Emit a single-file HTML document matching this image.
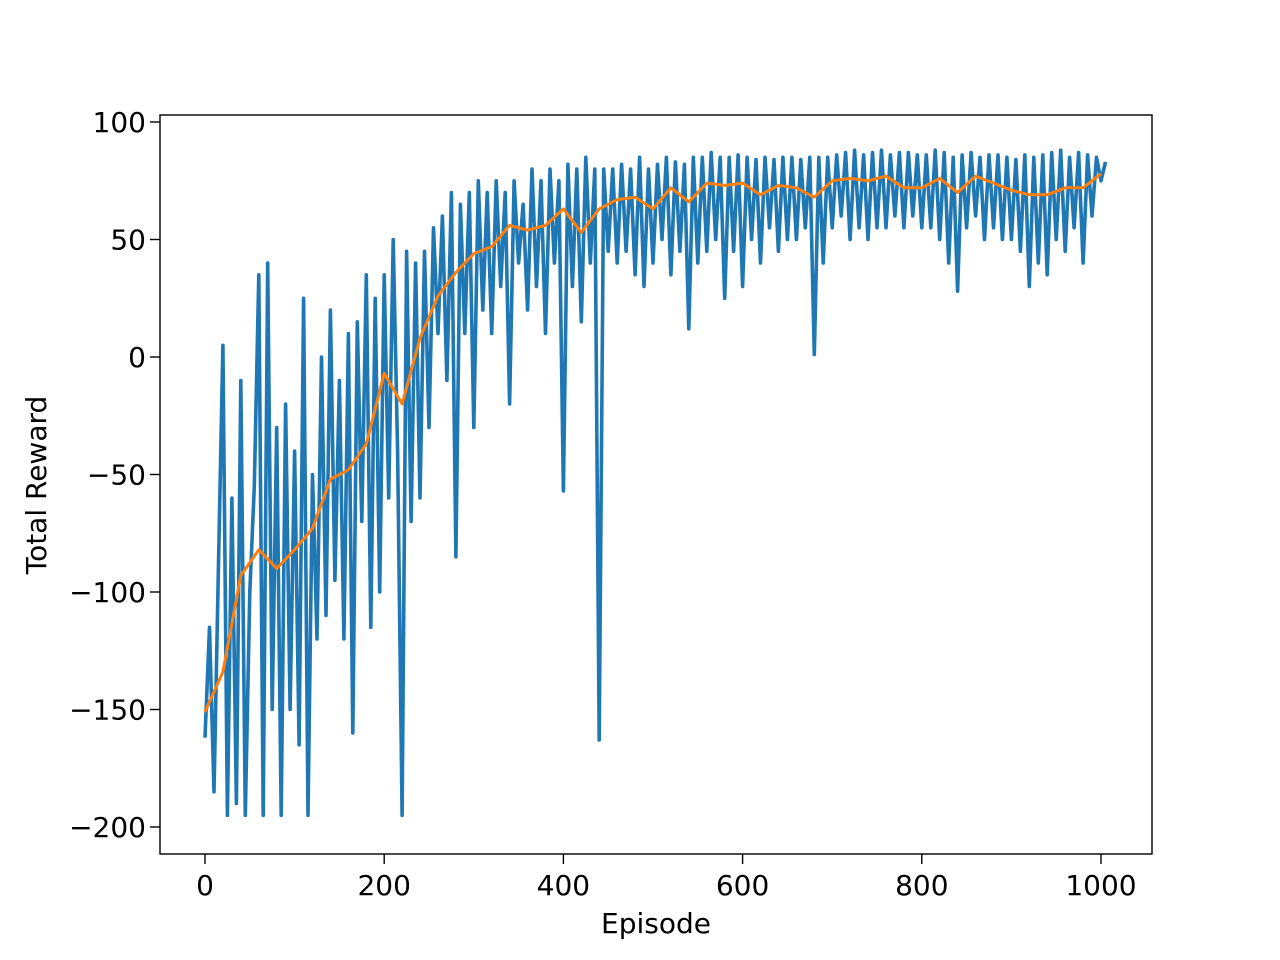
<!DOCTYPE html>
<html><head><meta charset="utf-8"><style>
html,body{margin:0;padding:0;background:#fff;}
svg{display:block;font-family:"DejaVu Sans","Liberation Sans",sans-serif;}
</style></head><body>
<svg id="chart" width="1280" height="960" viewBox="0 0 1280 960"></svg>
<script>
const blueStart = 0, blueStep = 5;
const blueValues = [
-162,-115,-185,-90, 5,-195,-60,-190, -10,-195,-100,-55, 35,-195,40,-150,
-30,-195,-20,-150, -40,-165,25,-195, -50,-120,0,-110, 20,-95,-10,-120,
10,-160,15,-70, 35,-115,25,-100, 35,-60,50,-40, -195,45,-70,40,
-60,45,-30,55, 10,60,-10,70, -85,65,10,70, -30,75,20,70,
10,75,30,70, -20,75,40,65, 20,80,30,75, 10,80,40,75,
-57,82,30,80, 15,85,40,80, -163,80,45,80, 40,82,45,80,
35,85,30,80, 40,82,50,85, 35,83,45,82, 12,85,40,85,
45,87,50,85, 25,85,45,86, 30,85,50,84, 40,85,55,84,
45,85,50,85, 50,84,55,85, 1,85,40,85, 55,86,60,87,
50,88,55,86, 50,87,55,88, 55,86,60,87, 55,87,60,86,
55,86,55,88, 50,87,40,85, 28,86,55,87, 60,85,50,86,
55,86,50,85, 50,84,45,86, 30,85,40,86, 35,87,50,88,
45,85,55,87, 40,86,60,85, 75,83];
const avgEpisodes = [0,20,40,60,80,100,120,140,160,180,200,220,240,260,280,300,320,340,360,380,400,420,440,460,480,500,520,540,560,580,600,620,640,660,680,700,720,740,760,780,800,820,840,860,880,900,920,940,960,980,1000];
const avgValues = [-151,-134,-93,-82,-90,-82,-73,-52,-48,-37,-7,-20,8,26,36,44,47,56,54,56,63,53,63,67,68,63,72,66,74,73,74,69,73,72,68,75,76,75,77,72,72,76,70,77,74,71,69,69,72,72,78];
const xTicks = [0,200,400,600,800,1000];
const yTicks = [-200,-150,-100,-50,0,50,100];

const NS="http://www.w3.org/2000/svg";
const svg=document.getElementById('chart');
const L=160,R=1152,T=115,B=854;
const X=v=>205+(v-0)*(1101-205)/1000;
const Y=v=>357+(0-v)*(357-122)/100;
function el(tag,attrs,parent){const e=document.createElementNS(NS,tag);for(const k in attrs)e.setAttribute(k,attrs[k]);(parent||svg).appendChild(e);return e;}

const blue=blueValues.map((v,i)=>X(blueStart+i*blueStep).toFixed(1)+','+Y(v).toFixed(1)).join(' ');
const bl=el('polyline',{points:blue,fill:'none',stroke:'#1f77b4','stroke-width':3.6,'stroke-linejoin':'round'});


const avg=avgValues.map((v,i)=>X(avgEpisodes[i]).toFixed(1)+','+Y(v).toFixed(1)).join(' ');
const ol=el('polyline',{points:avg,fill:'none',stroke:'#ff7f0e','stroke-width':3,'stroke-linejoin':'round'});



const frame=el('rect',{x:L,y:T,width:R-L,height:B-T,fill:'none',stroke:'#000','stroke-width':1.4});



xTicks.forEach(t=>{
  const x=X(t);
  el('line',{x1:x,x2:x,y1:B,y2:B+10,stroke:'#000','stroke-width':1.4});
  const tx=el('text',{x:x,y:895,'text-anchor':'middle','font-size':28,fill:'#000'});
  tx.textContent=t;
  
  
});
yTicks.forEach(t=>{
  const y=Y(t);
  el('line',{x1:L-10,x2:L,y1:y,y2:y,stroke:'#000','stroke-width':1.4});
  const tx=el('text',{x:L-14,y:y+10,'text-anchor':'end','font-size':28,fill:'#000'});
  tx.textContent=t<0?'\u2212'+Math.abs(t):String(t);
  
  
});
const xl=el('text',{x:656,y:933,'text-anchor':'middle','font-size':28,fill:'#000'});
xl.textContent='Episode';


const yl=el('text',{x:0,y:0,'text-anchor':'middle','font-size':28,fill:'#000',transform:'translate(46,485) rotate(-90)'});
yl.textContent='Total Reward';


</script>
</body></html>
